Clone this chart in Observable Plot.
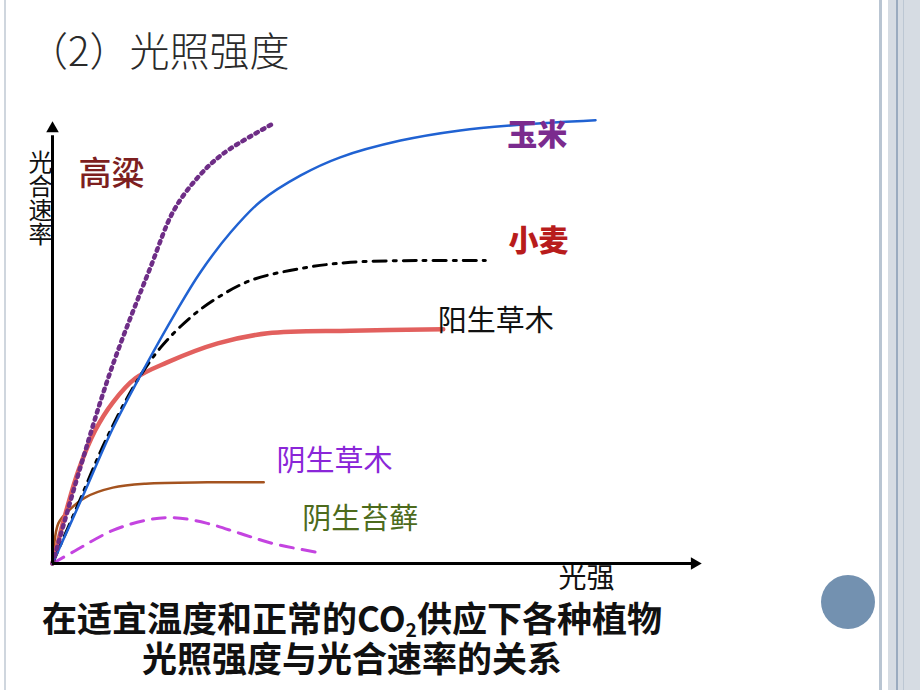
<!DOCTYPE html>
<html>
<head>
<meta charset="utf-8">
<script src="https://cdn.jsdelivr.net/npm/d3@7"></script>
<script src="https://cdn.jsdelivr.net/npm/@observablehq/plot@0.6"></script>
<style>
  html, body { margin: 0; padding: 0; background: #fff; }
  #page { position: relative; width: 920px; height: 690px; overflow: hidden; background: #fff; font-family: "Noto Sans CJK SC", sans-serif; }
  .deco { position: absolute; top: 0; height: 690px; }
  #title { position: absolute; left: 28px; top: 29px; font-size: 40px; line-height: 1; font-weight: 300; color: #2a2a2a; white-space: nowrap; }
  .cap { position: absolute; left: 0; width: 704px; text-align: center; font-size: 35px; line-height: 36px; font-weight: 700; color: #111; white-space: nowrap; }
  .cap sub { font-size: 0.55em; vertical-align: -0.25em; line-height: 0; }
  #chart { position: absolute; left: 0; top: 100px; }
  #circle { position: absolute; left: 821px; top: 575px; width: 54px; height: 54px; border-radius: 50%; background: #7391b0; }
  .vlabel text { writing-mode: vertical-rl; text-orientation: upright; letter-spacing: 0px; }
</style>
</head>
<body>
<div id="page">
  <div class="deco" style="left:4px;width:2px;background:#cfd6de"></div>
  <div class="deco" style="left:879px;width:3px;background:#b9c5d2"></div>
  <div class="deco" style="left:888px;width:32px;background:#d6dce3"></div>
  <div class="deco" style="left:896px;width:2px;background:#9aabbf"></div>
  <div class="deco" style="left:903px;width:1px;background:#bcc7d3"></div>
  <div id="circle"></div>
  <div id="title">（2）光照强度</div>
  <div id="chart"></div>
  <div class="cap" style="top:599px">在适宜温度和正常的CO<sub>2</sub>供应下各种植物</div>
  <div class="cap" style="top:639px">光照强度与光合速率的关系</div>
</div>
<script>
// Light intensity (x) and photosynthetic rate (y), arbitrary units
const sorghumX = [0, 4.3, 9.0, 15.1, 18.7, 22.4, 26.4, 34.1];
const sorghumY = [0, 21.8, 43.8, 67.1, 80.0, 87.5, 93.0, 99.8];

const maizeX = [0, 4.6, 9.3, 14.4, 19.0, 22.8, 27.5, 32.1, 38.3, 44.4, 53.7, 62.9, 72.2, 83.8];
const maizeY = [0, 15.0, 30.6, 44.9, 56.9, 66.0, 75.1, 82.1, 88.0, 92.1, 95.9, 98.2, 99.5, 100.5];

const wheatX = [0, 4.0, 8.2, 12.8, 16.7, 21.3, 25.5, 30.6, 38.3, 46.0, 56.8, 66.8];
const wheatY = [0, 13.6, 27.9, 40.8, 49.0, 55.8, 60.3, 64.2, 66.9, 68.3, 68.7, 68.7];

const sunHerbX = [0, 0.9, 2.0, 4.0, 6.6, 9.3, 12.8, 17.7, 25.5, 33.2, 46.0, 60.3];
const sunHerbY = [0, 5.2, 11.3, 21.1, 30.2, 36.5, 42.0, 45.6, 49.9, 52.2, 52.8, 53.1];

const shadeHerbX = [0, 0.15, 0.9, 2.5, 5.1, 9.3, 14.4, 23.9, 32.6];
const shadeHerbY = [0, 2.9, 9.1, 12.0, 15.0, 17.2, 18.1, 18.4, 18.4];

const mossX = [0, 3.5, 9.3, 14.4, 18.7, 23.9, 29.0, 34.1, 41.8];
const mossY = [0, 2.9, 7.5, 9.8, 10.4, 9.1, 6.8, 4.5, 2.3];

const labelNames = ["高粱", "玉米", "小麦", "阳生草木", "阴生草木", "阴生苔藓"];
const labelX = [9.1, 74.8, 75.0, 68.4, 43.5, 47.5];
const labelY = [88.2, 97.1, 73.0, 54.9, 23.1, 10.0];

const xAxisLabel = "光强";
const yAxisLabel = "光合速率";

const pts = (xs, ys) => xs.map((x, i) => ({x, y: ys[i]}));

const labelColors = ["#7d1f1f", "#7b2b8e", "#b81c1c", "#111111", "#8a26d8", "#4d6b1c"];
const labelWeights = [500, 800, 800, 400, 400, 400];
const labelSizes = [33, 30, 30, 29, 29, 29];

const font = "Noto Sans CJK SC";
const curve = "catmull-rom";

const labelMarks = labelNames.map((name, i) =>
  Plot.text([{name, x: labelX[i], y: labelY[i]}], {
    x: "x", y: "y", text: "name", fontFamily: font,
    fontSize: labelSizes[i], fontWeight: labelWeights[i], fill: labelColors[i]
  })
);

const chart = Plot.plot({
  width: 920,
  height: 500,
  marginLeft: 52,
  marginRight: 220,
  marginTop: 22,
  marginBottom: 37,
  x: {domain: [0, 100], axis: null},
  y: {domain: [0, 100], axis: null},
  style: {background: "transparent", overflow: "visible"},
  marks: [
    // y-axis title written vertically, just left of the axis
    Plot.text([{x: -1.85, y: 84.6}], {x: "x", y: "y", text: () => yAxisLabel, fontSize: 24, fill: "#111", fontFamily: font, className: "vlabel"}),
    Plot.text([{x: 82.4, y: -3.6}], {x: "x", y: "y", text: () => xAxisLabel, fontSize: 28, fill: "#111", fontFamily: font}),
    // curves
    Plot.line(pts(mossX, mossY), {x: "x", y: "y", stroke: "#c444e0", strokeWidth: 3, strokeDasharray: "13,9", curve}),
    Plot.line(pts(shadeHerbX, shadeHerbY), {x: "x", y: "y", stroke: "#a4531f", strokeWidth: 2.5, curve}),
    Plot.line(pts(sunHerbX, sunHerbY), {x: "x", y: "y", stroke: "#e2605e", strokeWidth: 4.5, curve}),
    Plot.line(pts(wheatX, wheatY), {x: "x", y: "y", stroke: "#000", strokeWidth: 3, strokeDasharray: "13,7,3,7", curve}),
    Plot.line(pts(maizeX, maizeY), {x: "x", y: "y", stroke: "#2062d2", strokeWidth: 2.5, curve}),
    Plot.line(pts(sorghumX, sorghumY), {x: "x", y: "y", stroke: "#6e2d86", strokeWidth: 4.5, strokeDasharray: "2.5,5", curve}),
    // axes
    Plot.ruleY([0], {x1: 0, x2: 99, stroke: "#000", strokeWidth: 3}),
    Plot.ruleX([0], {y1: 0, y2: 97, stroke: "#000", strokeWidth: 3}),
    Plot.dot([{x: 100, y: 0}], {x: "x", y: "y", symbol: "triangle2", r: 6, fill: "#000", rotate: 90, dx: -6}),
    Plot.dot([{x: 0, y: 100}], {x: "x", y: "y", symbol: "triangle2", r: 6, fill: "#000", dy: 6}),
    // curve labels
    ...labelMarks
  ]
});

document.getElementById("chart").appendChild(chart);
</script>
</body>
</html>
